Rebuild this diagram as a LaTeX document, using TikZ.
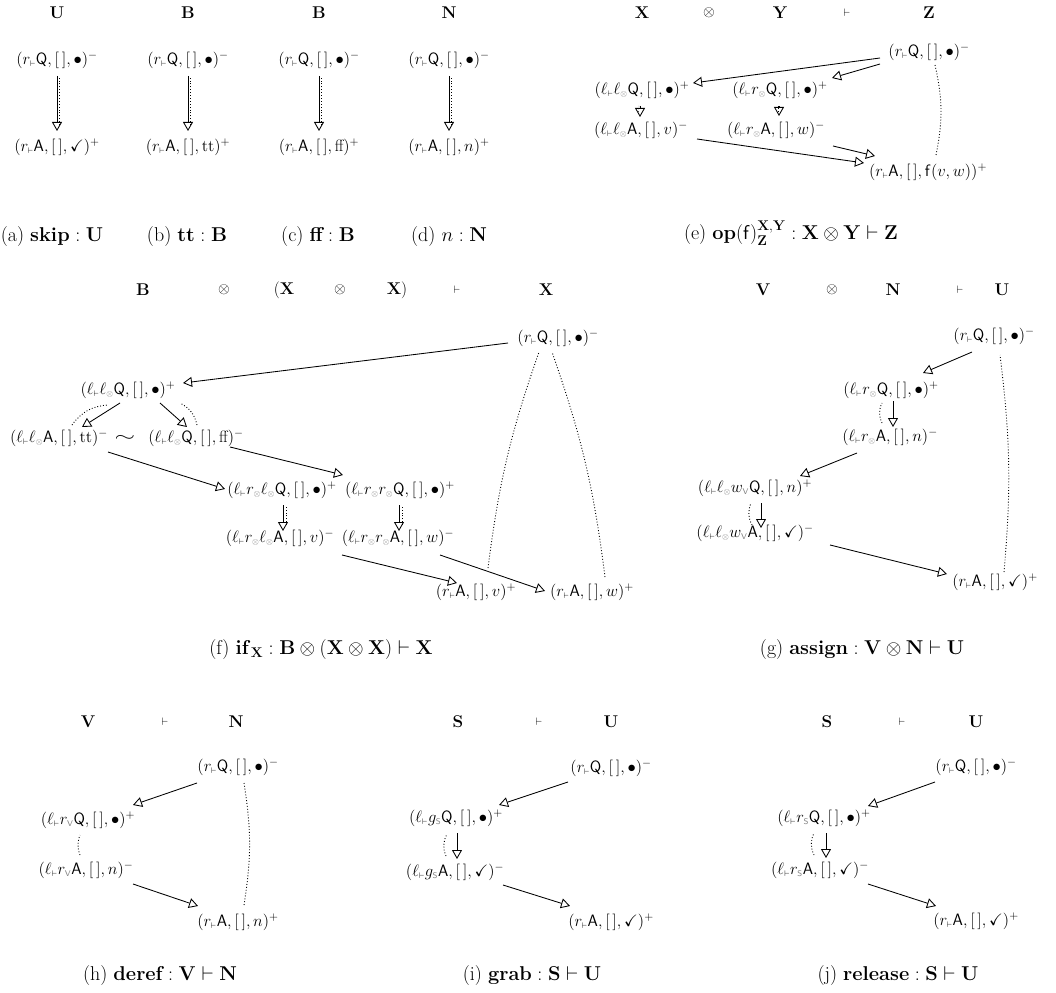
\RequirePackage{fix-cm}
\documentclass[tikz,border=0pt]{standalone}
\usepackage{amssymb}
\usepackage{graphicx}
\usetikzlibrary{arrows.meta}
\newcommand{\zQ}{\textsf{Q}}
\newcommand{\zA}{\textsf{A}}
\newcommand{\zLt}{\ell_{\scriptscriptstyle\vdash}}
\newcommand{\zRt}{r_{\scriptscriptstyle\vdash}}
\newcommand{\zgs}[1]{{\scriptscriptstyle\color{gray}#1}}
\newcommand{\zLo}{\ell_{\zgs{\otimes}}}
\newcommand{\zRo}{r_{\zgs{\otimes}}}
\newcommand{\zWv}{w_{\zgs{\mathsf{V}}}}
\newcommand{\zRv}{r_{\zgs{\mathsf{V}}}}
\newcommand{\zGs}{g_{\zgs{\mathsf{S}}}}
\newcommand{\zRs}{r_{\zgs{\mathsf{S}}}}
\newcommand{\zmv}[3]{$(#1,[\,],#2)^{#3}$}
\tikzset{
  mv/.style={font=\fontsize{16.5}{19}\selectfont, inner sep=1pt},
  hd/.style={font=\fontsize{17}{20}\selectfont\bfseries, inner sep=0pt},
  hdo/.style={font=\fontsize{15}{18}\selectfont, inner sep=0pt},
  hdt/.style={font=\fontsize{11}{13}\selectfont, inner sep=0pt},
  captxt/.style={font=\fontsize{20}{24}\selectfont, inner sep=0pt},
  arr/.style={-{Triangle[open,length=9pt,width=10pt]}, line width=0.85pt},
  jp/.style={line width=0.9pt, dash pattern=on 0.9pt off 2pt},
}
\begin{document}
\begin{tikzpicture}[x=1pt,y=-1pt]
\useasboundingbox (0,0) rectangle (1056,992);

% ---------- row 1 headers
\node[hd] (hU) at (57,13) {U};
\node[hd] (hB1) at (188,13) {B};
\node[hd] (hB2) at (319,13) {B};
\node[hd] (hN) at (449,13) {N};
\node[hd] (heX) at (642,13) {X};
\node[hdo] (heO) at (709,13) {$\otimes$};
\node[hd] (heY) at (780,13) {Y};
\node[hdt] (heT) at (847,13) {$\vdash$};
\node[hd] (heZ) at (929,13) {Z};

% ---------- (a)-(d)
\node[mv] (a1) at (57,60) {\zmv{\zRt\zQ}{\bullet}{-}};
\node[mv] (a2) at (57,147) {\zmv{\zRt\zA}{\checkmark}{+}};
\node[mv] (b1) at (188,60) {\zmv{\zRt\zQ}{\bullet}{-}};
\node[mv] (b2) at (188,147) {\zmv{\zRt\zA}{\mathrm{tt}}{+}};
\node[mv] (c1) at (319,60) {\zmv{\zRt\zQ}{\bullet}{-}};
\node[mv] (c2) at (319,147) {\zmv{\zRt\zA}{\mbox{ff}}{+}};
\node[mv] (d1) at (449,60) {\zmv{\zRt\zQ}{\bullet}{-}};
\node[mv] (d2) at (449,147) {\zmv{\zRt\zA}{n}{+}};
\foreach \p in {a,b,c,d}{
  \draw[arr] ([shift={(0,16)}]\p1.center) -- ([shift={(0,-16)}]\p2.center);
  \draw[jp] ([shift={(2,-22)}]\p2.center) -- ([shift={(2,16)}]\p1.center);
}
\node[captxt] (ca) at (52,237) {(a) $\textbf{skip} : \mathbf{U}$};
\node[captxt] (cb) at (187,237) {(b) $\textbf{tt} : \mathbf{B}$};
\node[captxt] (cc) at (318,237) {(c) $\textbf{ff} : \mathbf{B}$};
\node[captxt] (cd) at (449,237) {(d) $n : \mathbf{N}$};

% ---------- (e)
\node[mv] (e1) at (929,52) {\zmv{\zRt\zQ}{\bullet}{-}};
\node[mv] (e2) at (642,90) {\zmv{\zLt\zLo\zQ}{\bullet}{+}};
\node[mv] (e3) at (780,90) {\zmv{\zLt\zRo\zQ}{\bullet}{+}};
\node[mv] (e4) at (641,130) {\zmv{\zLt\zLo\zA}{v}{-}};
\node[mv] (e5) at (776,130) {\zmv{\zLt\zRo\zA}{w}{-}};
\node[mv] (e6) at (928,172) {\zmv{\zRt\zA}{\mathsf{f}(v,w)}{+}};
\draw[arr] ([shift={(-49,6)}]e1.center) -- ([shift={(51,-7)}]e2.center);
\draw[arr] ([shift={(-49,12)}]e1.center) -- ([shift={(52,-12)}]e3.center);
\draw[arr] ([shift={(-2,16)}]e2.center) -- ([shift={(-1,-13)}]e4.center);
\draw[jp] ([shift={(-3,-18)}]e4.center) -- ([shift={(-3,16)}]e2.center);
\draw[arr] ([shift={(-1,16)}]e3.center) -- ([shift={(3,-14)}]e5.center);
\draw[jp] ([shift={(2,-18)}]e5.center) -- ([shift={(-2,16)}]e3.center);
\draw[arr] ([shift={(56,9)}]e4.center) -- ([shift={(-64,-9)}]e6.center);
\draw[arr] ([shift={(57,16)}]e5.center) -- ([shift={(-53,-16)}]e6.center);
\draw[jp] ([shift={(8,-17)}]e6.center) to[bend right=12] ([shift={(6,13)}]e1.center);
\node[captxt] (ce) at (791,233) {(e) $\mathbf{op}(\mathsf{f})^{\mathbf{X},\mathbf{Y}}_{\mathbf{Z}} : \mathbf{X}\otimes\mathbf{Y}\vdash\mathbf{Z}$};

% ---------- row 2 headers
\node[hd] (hfB) at (143,290) {B};
\node[hdo] (hfO1) at (224,290) {$\otimes$};
\node[hd] (hfX1) at (284,290) {{\mdseries(}X};
\node[hdo] (hfO2) at (340,290) {$\otimes$};
\node[hd] (hfX2) at (397,290) {X{\mdseries)}};
\node[hdt] (hfT) at (457,290) {$\vdash$};
\node[hd] (hfX3) at (546,290) {X};
\node[hd] (hgV) at (763,290) {V};
\node[hdo] (hgO) at (832,290) {$\otimes$};
\node[hd] (hgN) at (893,290) {N};
\node[hdt] (hgT) at (960,290) {$\vdash$};
\node[hd] (hgU) at (1002,290) {U};

% ---------- (f)
\node[mv] (f1) at (558,338) {\zmv{\zRt\zQ}{\bullet}{-}};
\node[mv] (f2) at (128,390) {\zmv{\zLt\zLo\zQ}{\bullet}{+}};
\node[mv] (f3) at (59,438) {\zmv{\zLt\zLo\zA}{\mathrm{tt}}{-}};
\node[mv] (f4) at (125,438) {\scalebox{1.6}[1]{$\sim$}};
\node[mv] (f5) at (196,438) {\zmv{\zLt\zLo\zQ}{\mbox{ff}}{-}};
\node[mv] (f6) at (282,490) {\zmv{\zLt\zRo\zLo\zQ}{\bullet}{+}};
\node[mv] (f7) at (400,490) {\zmv{\zLt\zRo\zRo\zQ}{\bullet}{+}};
\node[mv] (f8) at (280,538) {\zmv{\zLt\zRo\zLo\zA}{v}{-}};
\node[mv] (f9) at (398,538) {\zmv{\zLt\zRo\zRo\zA}{w}{-}};
\node[mv] (f10) at (476,592) {\zmv{\zRt\zA}{v}{+}};
\node[mv] (f11) at (592,592) {\zmv{\zRt\zA}{w}{+}};
\draw[arr] ([shift={(-50,5)}]f1.center) -- ([shift={(55,-7)}]f2.center);
\draw[arr] ([shift={(-8,13)}]f2.center) -- ([shift={(23,-11)}]f3.center);
\draw[arr] ([shift={(32,13)}]f2.center) -- ([shift={(-9,-11)}]f5.center);
\draw[jp] ([shift={(13,-13)}]f3.center) to[bend left=25] ([shift={(-20,15)}]f2.center);
\draw[jp] ([shift={(1,-13)}]f5.center) to[bend right=25] ([shift={(52,13)}]f2.center);
\draw[arr] ([shift={(49,14)}]f3.center) -- ([shift={(-57,-1)}]f6.center);
\draw[arr] ([shift={(34,9)}]f5.center) -- ([shift={(-57,-15)}]f7.center);
\draw[arr] ([shift={(1,15)}]f6.center) -- ([shift={(3,-7)}]f8.center);
\draw[jp] ([shift={(6,-13)}]f8.center) -- ([shift={(4,15)}]f6.center);
\draw[arr] ([shift={(-1,15)}]f7.center) -- ([shift={(1,-7)}]f9.center);
\draw[jp] ([shift={(4,-13)}]f9.center) -- ([shift={(2,15)}]f7.center);
\draw[arr] ([shift={(62,17)}]f8.center) -- ([shift={(-19,-9)}]f10.center);
\draw[arr] ([shift={(42,17)}]f9.center) -- ([shift={(-47,-1)}]f11.center);
\draw[jp] ([shift={(12,-24)}]f10.center) to[bend left=6] ([shift={(-19,14)}]f1.center);
\draw[jp] ([shift={(13,-15)}]f11.center) to[bend right=6] ([shift={(-6,14)}]f1.center);
\node[captxt] (cf) at (321,650) {(f) $\mathbf{if}_{\mathbf{X}} : \mathbf{B}\otimes(\mathbf{X}\otimes\mathbf{X})\vdash\mathbf{X}$};

% ---------- (g)
\node[mv] (g1) at (994,336) {\zmv{\zRt\zQ}{\bullet}{-}};
\node[mv] (g2) at (891,390) {\zmv{\zLt\zRo\zQ}{\bullet}{+}};
\node[mv] (g3) at (890,437) {\zmv{\zLt\zRo\zA}{n}{-}};
\node[mv] (g4) at (755,488) {\zmv{\zLt\zLo\zWv\zQ}{n}{+}};
\node[mv] (g5) at (755,533) {\zmv{\zLt\zLo\zWv\zA}{\checkmark}{-}};
\node[mv] (g6) at (995,582) {\zmv{\zRt\zA}{\checkmark}{+}};
\draw[arr] ([shift={(-22,16)}]g1.center) -- ([shift={(32,-17)}]g2.center);
\draw[arr] ([shift={(2,11)}]g2.center) -- ([shift={(3,-10)}]g3.center);
\draw[jp] ([shift={(-8,-14)}]g3.center) to[bend left=25] ([shift={(-9,13)}]g2.center);
\draw[arr] ([shift={(-33,16)}]g3.center) -- ([shift={(45,-12)}]g4.center);
\draw[arr] ([shift={(6,15)}]g4.center) -- ([shift={(6,-5)}]g5.center);
\draw[jp] ([shift={(-3,-8)}]g5.center) to[bend left=25] ([shift={(-4,15)}]g4.center);
\draw[arr] ([shift={(75,12)}]g5.center) -- ([shift={(-48,-8)}]g6.center);
\draw[jp] ([shift={(9,-10)}]g6.center) to[bend right=6] ([shift={(6,19)}]g1.center);
\node[captxt] (cg) at (862,650) {(g) $\textbf{assign} : \mathbf{V}\otimes\mathbf{N}\vdash\mathbf{U}$};

% ---------- row 3 headers
\node[hd] (hhV) at (88,722) {V};
\node[hdt] (hhT) at (165,722) {$\vdash$};
\node[hd] (hhN) at (236,722) {N};
\node[hd] (hiS) at (458,722) {S};
\node[hdt] (hiT) at (539,722) {$\vdash$};
\node[hd] (hiU) at (611,722) {U};
\node[hd] (hjS) at (827,722) {S};
\node[hdt] (hjT) at (902,722) {$\vdash$};
\node[hd] (hjU) at (976,722) {U};

% ---------- (h)
\node[mv] (h1) at (238,767) {\zmv{\zRt\zQ}{\bullet}{-}};
\node[mv] (h2) at (88,820) {\zmv{\zLt\zRv\zQ}{\bullet}{+}};
\node[mv] (h3) at (86,870) {\zmv{\zLt\zRv\zA}{n}{-}};
\node[mv] (h4) at (238,922) {\zmv{\zRt\zA}{n}{+}};
\draw[arr] ([shift={(-41,16)}]h1.center) -- ([shift={(45,-15)}]h2.center);
\draw[jp] ([shift={(-6,-15)}]h3.center) to[bend left=20] ([shift={(-8,15)}]h2.center);
\draw[arr] ([shift={(47,14)}]h3.center) -- ([shift={(-40,-16)}]h4.center);
\draw[jp] ([shift={(6,-17)}]h4.center) to[bend right=9] ([shift={(6,16)}]h1.center);
\node[captxt] (ch) at (160,975) {(h) $\textbf{deref} : \mathbf{V}\vdash\mathbf{N}$};

% ---------- (i)
\node[mv] (i1) at (611,768) {\zmv{\zRt\zQ}{\bullet}{-}};
\node[mv] (i2) at (456,818) {\zmv{\zLt\zGs\zQ}{\bullet}{+}};
\node[mv] (i3) at (455,872) {\zmv{\zLt\zGs\zA}{\checkmark}{-}};
\node[mv] (i4) at (611,922) {\zmv{\zRt\zA}{\checkmark}{+}};
\draw[arr] ([shift={(-43,14)}]i1.center) -- ([shift={(43,-13)}]i2.center);
\draw[arr] ([shift={(1,15)}]i2.center) -- ([shift={(2,-13)}]i3.center);
\draw[jp] ([shift={(-9,-16)}]i3.center) to[bend left=25] ([shift={(-9,16)}]i2.center);
\draw[arr] ([shift={(48,13)}]i3.center) -- ([shift={(-41,-16)}]i4.center);
\node[captxt] (ci) at (532,975) {(i) $\textbf{grab} : \mathbf{S}\vdash\mathbf{U}$};

% ---------- (j)
\node[mv] (j1) at (976,767) {\zmv{\zRt\zQ}{\bullet}{-}};
\node[mv] (j2) at (824,818) {\zmv{\zLt\zRs\zQ}{\bullet}{+}};
\node[mv] (j3) at (820,870) {\zmv{\zLt\zRs\zA}{\checkmark}{-}};
\node[mv] (j4) at (976,921) {\zmv{\zRt\zA}{\checkmark}{+}};
\draw[arr] ([shift={(-41,15)}]j1.center) -- ([shift={(44,-12)}]j2.center);
\draw[arr] ([shift={(2,15)}]j2.center) -- ([shift={(6,-12)}]j3.center);
\draw[jp] ([shift={(-6,-15)}]j3.center) to[bend left=25] ([shift={(-10,15)}]j2.center);
\draw[arr] ([shift={(48,14)}]j3.center) -- ([shift={(-40,-15)}]j4.center);
\node[captxt] (cj) at (898,975) {(j) $\textbf{release} : \mathbf{S}\vdash\mathbf{U}$};
\end{tikzpicture}
\end{document}
